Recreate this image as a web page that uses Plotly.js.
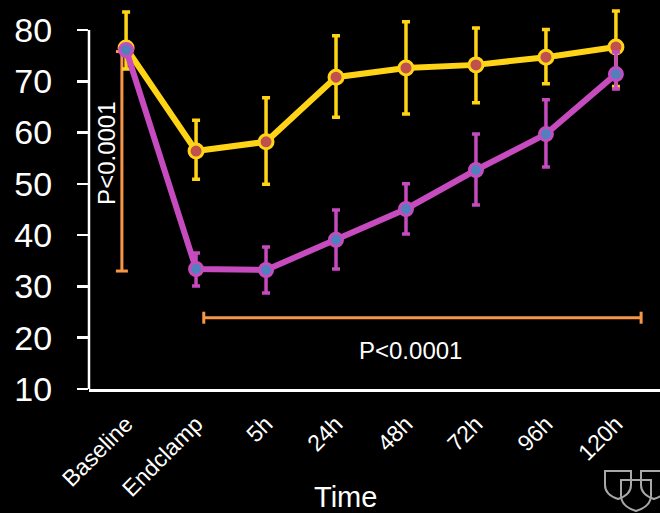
<!DOCTYPE html>
<html>
<head>
<meta charset="utf-8">
<script src="https://cdn.plot.ly/plotly-3.0.1.min.js"></script>
<style>html,body{margin:0;padding:0;background:#000;}#chart{width:660px;height:513px;}</style>
</head>
<body>
<div id="chart"></div>
<script>
// ---- data ----
var categories = ["Baseline", "Endclamp", "5h", "24h", "48h", "72h", "96h", "120h"];
var yellowMean = [76.5, 56.4, 58.2, 70.8, 72.6, 73.2, 74.7, 76.7];
var yellowErrUp = [7.0, 6.0, 8.6, 8.1, 9.0, 7.2, 5.4, 7.0];
var yellowErrDown = [4.1, 5.5, 8.3, 7.8, 9.0, 7.4, 5.2, 7.7];
var purpleMean = [76.1, 33.4, 33.2, 39.1, 45.1, 52.7, 59.7, 71.4];
var purpleErrUp = [1.0, 3.1, 4.5, 5.8, 4.9, 7.0, 6.7, 4.3];
var purpleErrDown = [1.0, 3.3, 4.5, 5.7, 4.9, 6.8, 6.4, 2.9];
var yTicks = [10, 20, 30, 40, 50, 60, 70, 80];
// significance brackets: [x, yFrom, yTo] and [y, xFrom, xTo]
var pVertical = [-0.06, 33.0, 75.8];
var pHorizontal = [23.9, 1.11, 7.36];
var pLabel = "P<0.0001";
var xTitle = "Time";

var xIdx = categories.map(function (c, i) { return i; });
var yMin = yTicks[0], yMax = yTicks[yTicks.length - 1];

var W = 660, H = 513, ML = 89, MT = 0, MB = 124, MR = 0;
var PW = W - ML - MR, PH = H - MT - MB;
function px(x) { return (x - ML) / PW; }
function py(y) { return (H - MB - y) / PH; }

var orange = "#F79646";
var yellow = "#FFD416";
var purple = "#C54BBE";

var traces = [
  {
    x: xIdx, y: yellowMean, type: "scatter", mode: "lines+markers", cliponaxis: false,
    line: { color: yellow, width: 6 },
    marker: { size: 14, color: "#C0504D", line: { color: yellow, width: 3 } },
    error_y: { type: "data", symmetric: false, array: yellowErrUp, arrayminus: yellowErrDown,
               color: yellow, thickness: 3.5, width: 4 },
    hoverinfo: "skip", showlegend: false
  },
  {
    x: xIdx, y: purpleMean, type: "scatter", mode: "lines+markers", cliponaxis: false,
    line: { color: purple, width: 6 },
    marker: { size: 13, color: "#4F81BD", line: { color: purple, width: 3 } },
    error_y: { type: "data", symmetric: false, array: purpleErrUp, arrayminus: purpleErrDown,
               color: purple, thickness: 3.5, width: 4 },
    hoverinfo: "skip", showlegend: false
  }
];

var shapes = [
  // y axis line from first to last tick
  { type: "line", xref: "paper", yref: "y", x0: 0, x1: 0, y0: yMin, y1: yMax,
    line: { color: "#FFFFFF", width: 2.5 }, layer: "above" },
  // vertical bracket
  { type: "line", xref: "x", yref: "y", x0: pVertical[0], x1: pVertical[0], y0: pVertical[1], y1: pVertical[2],
    line: { color: orange, width: 3 }, layer: "below" },
  { type: "line", xref: "x", yref: "y", xsizemode: "pixel", xanchor: pVertical[0], x0: -6, x1: 6,
    y0: pVertical[1], y1: pVertical[1], line: { color: orange, width: 3 }, layer: "below" },
  { type: "line", xref: "x", yref: "y", xsizemode: "pixel", xanchor: pVertical[0], x0: -6, x1: 6,
    y0: pVertical[2], y1: pVertical[2], line: { color: orange, width: 3 }, layer: "below" },
  // horizontal bracket
  { type: "line", xref: "x", yref: "y", x0: pHorizontal[1], x1: pHorizontal[2], y0: pHorizontal[0], y1: pHorizontal[0],
    line: { color: orange, width: 3 } },
  { type: "line", xref: "x", yref: "y", ysizemode: "pixel", yanchor: pHorizontal[0], y0: -6, y1: 6,
    x0: pHorizontal[1], x1: pHorizontal[1], line: { color: orange, width: 3 } },
  { type: "line", xref: "x", yref: "y", ysizemode: "pixel", yanchor: pHorizontal[0], y0: -6, y1: 6,
    x0: pHorizontal[2], x1: pHorizontal[2], line: { color: orange, width: 3 } }
];

// decorative shield logo (bottom right)
function shield(x0, y0, w, h) {
  var xm = x0 + w / 2, yb = y0 + h;
  var d = "M" + px(x0) + "," + py(y0) +
    " L" + px(x0 + w) + "," + py(y0) +
    " L" + px(x0 + w) + "," + py(y0 + h * 0.5) +
    " Q" + px(x0 + w) + "," + py(y0 + h * 0.85) + " " + px(xm) + "," + py(yb) +
    " Q" + px(x0) + "," + py(y0 + h * 0.85) + " " + px(x0) + "," + py(y0 + h * 0.5) + " Z";
  return { type: "path", xref: "paper", yref: "paper", path: d, line: { color: "#A8A8A8", width: 2 } };
}
shapes.push(shield(605, 471, 26, 28));
shapes.push(shield(621, 480, 30, 31));
shapes.push(shield(641, 471, 26, 28));

var txtFont = { family: "Liberation Sans, Arial, sans-serif", size: 24, color: "#FFFFFF" };
var annotations = [
  { text: pLabel, xref: "x", yref: "y", x: -0.29, y: 56.0, textangle: -90, showarrow: false, font: txtFont },
  { text: pLabel, xref: "x", yref: "y", x: 4.06, y: 17.6, showarrow: false, font: txtFont },
  { text: xTitle, xref: "paper", yref: "paper", x: px(345), y: py(497), xanchor: "center", yanchor: "middle",
    showarrow: false, font: { family: "Liberation Sans, Arial, sans-serif", size: 29, color: "#FFFFFF" } }
];

var layout = {
  width: W, height: H,
  margin: { l: ML, r: MR, t: MT, b: MB, pad: 0 },
  paper_bgcolor: "#000000", plot_bgcolor: "#000000",
  font: { family: "Liberation Sans, Arial, sans-serif", color: "#FFFFFF" },
  showlegend: false,
  xaxis: {
    range: [-0.53, 7.63], tickmode: "array", tickvals: xIdx, ticktext: categories,
    tickangle: -45, tickfont: { size: 23, color: "#FFFFFF" }, ticks: "",
    showgrid: false, zeroline: false, showline: true, linecolor: "#FFFFFF", linewidth: 2.5,
    ticklabelstandoff: 10,
    automargin: false, fixedrange: true
  },
  yaxis: {
    range: [yMin, 85.85], tickmode: "array", tickvals: yTicks,
    tickfont: { size: 34, color: "#FFFFFF" }, ticks: "outside", ticklen: 11, tickwidth: 2.5, tickcolor: "#FFFFFF",
    showgrid: false, zeroline: false, showline: false,
    ticklabelstandoff: 18, automargin: false, fixedrange: true
  },
  shapes: shapes,
  annotations: annotations
};

Plotly.newPlot("chart", traces, layout, { staticPlot: true, displayModeBar: false });
</script>
</body>
</html>
